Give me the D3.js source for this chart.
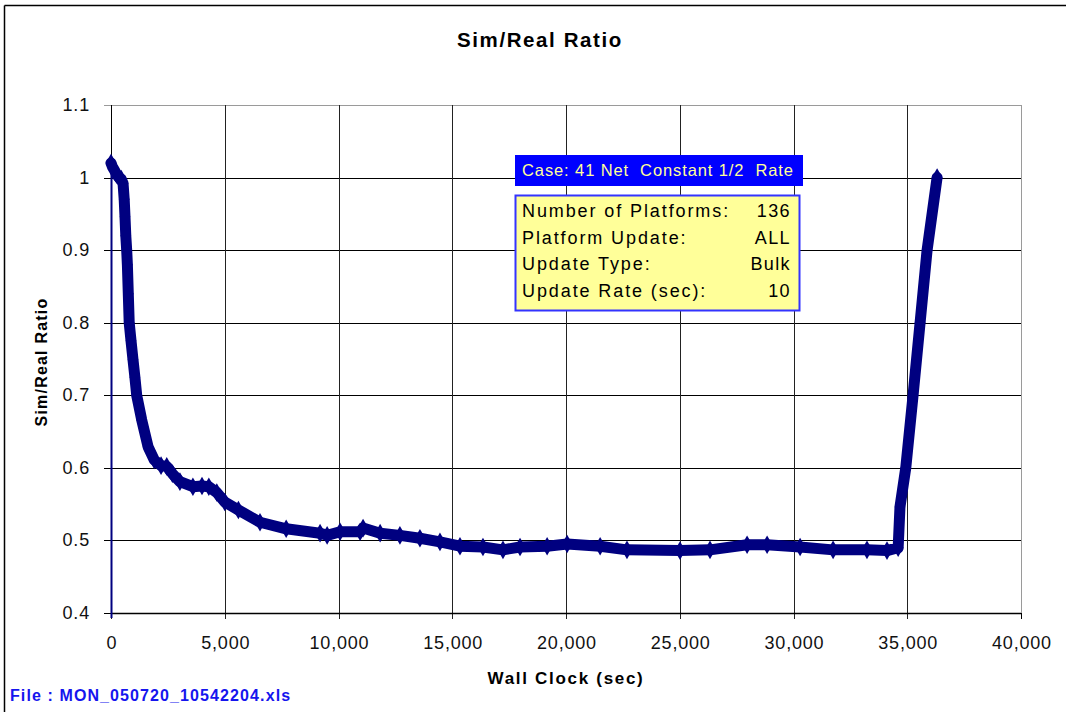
<!DOCTYPE html>
<html>
<head>
<meta charset="utf-8">
<script src="https://cdn.jsdelivr.net/npm/d3@7"></script>
<style>
  html, body { margin: 0; padding: 0; background: #ffffff; overflow: hidden; }
  svg { display: block; }
  text { font-family: "Liberation Sans", Arial, sans-serif; white-space: pre; }
</style>
</head>
<body>
<svg id="chart" width="1066" height="712"></svg>
<script>
// ---- data ----
const wallClockSec = [0, 60, 150, 250, 350, 450, 530, 580, 615, 650, 690, 720, 760, 800, 880, 967, 1050, 1130, 1350, 1630,
  1900, 2200, 2450, 2700, 3030, 3600, 4000, 4300, 4650, 5000, 5600, 6550, 7700, 9190, 9500, 10070, 10950, 11080, 11830, 12700,
  13580, 14460, 15340, 16350, 17230, 17980, 19170, 20050, 21500, 22680, 25010, 26330, 27960, 28840, 30290, 31740, 33230, 34110,
  34600, 34680, 34935, 35256, 35564, 35872, 36312];
const simRealRatio = [1.020, 1.015, 1.010, 1.004, 1.000, 0.998, 0.992, 0.970, 0.946, 0.920, 0.900, 0.880, 0.840, 0.800, 0.775, 0.749, 0.725, 0.700, 0.666, 0.629,
  0.611, 0.603, 0.602, 0.592, 0.581, 0.574, 0.575, 0.574, 0.566, 0.553, 0.542, 0.525, 0.516, 0.510, 0.507, 0.512, 0.512, 0.517, 0.510, 0.507,
  0.503, 0.498, 0.492, 0.491, 0.487, 0.491, 0.492, 0.495, 0.492, 0.487, 0.486, 0.487, 0.494, 0.494, 0.491, 0.487, 0.487, 0.486,
  0.490, 0.546, 0.600, 0.700, 0.800, 0.900, 1.000];
const xTicks = [0, 5000, 10000, 15000, 20000, 25000, 30000, 35000, 40000];
const yTicks = [0.4, 0.5, 0.6, 0.7, 0.8, 0.9, 1.0, 1.1];
const titleText = "Sim/Real Ratio";
const xTitle = "Wall Clock (sec)";
const yTitle = "Sim/Real Ratio";
const caseText = "Case: 41 Net  Constant 1/2  Rate";
const infoLabels = ["Number of Platforms:", "Platform Update:", "Update Type:", "Update Rate (sec):"];
const infoValues = ["136", "ALL", "Bulk", "10"];
const fileText = "File : MON_050720_10542204.xls";

// ---- layout ----
const svg = d3.select("#chart");
const L = 111, R = 1021, T = 105, B = 613;
const x = d3.scaleLinear().domain([0, 40000]).range([L, R]);
const y = d3.scaleLinear().domain([0.4, 1.1]).range([B, T]);
const navy = "#000080";

// outer chart frame (only top and left edges fall inside the picture)
svg.append("line").attr("x1", 4.5).attr("x2", 1066).attr("y1", 5.5).attr("y2", 5.5)
  .attr("stroke", "#000").attr("stroke-width", 1.5);
svg.append("line").attr("x1", 4.5).attr("x2", 4.5).attr("y1", 5.5).attr("y2", 712)
  .attr("stroke", "#000").attr("stroke-width", 1.5);

// title
svg.append("text").attr("x", 540).attr("y", 47).attr("text-anchor", "middle")
  .attr("font-size", 20.5).attr("font-weight", "bold").attr("letter-spacing", 1.6).text(titleText);

// gridlines
const g = svg.append("g");
g.selectAll("line.hg").data(yTicks).enter().append("line")
  .attr("x1", L - 7).attr("x2", R).attr("y1", d => Math.round(y(d)) + 0.5).attr("y2", d => Math.round(y(d)) + 0.5)
  .attr("stroke", d => d === 1.1 ? "#9a9a9a" : "#000").attr("stroke-width", 1);
g.selectAll("line.vg").data(xTicks).enter().append("line")
  .attr("y1", T).attr("y2", B + 6).attr("x1", d => Math.round(x(d)) + 0.5).attr("x2", d => Math.round(x(d)) + 0.5)
  .attr("stroke", d => d === 40000 ? "#9a9a9a" : "#222").attr("stroke-width", 1);
g.append("line").attr("x1", Math.round(x(40000)) + 0.5).attr("x2", Math.round(x(40000)) + 0.5)
  .attr("y1", B).attr("y2", B + 6).attr("stroke", "#000");
// axes
g.append("line").attr("x1", L + 0.5).attr("x2", L + 0.5).attr("y1", T).attr("y2", B).attr("stroke", "#000");
g.append("line").attr("x1", L).attr("x2", R).attr("y1", B + 0.5).attr("y2", B + 0.5).attr("stroke", "#000").attr("stroke-width", 1.5);

// tick labels
svg.selectAll("text.yt").data(yTicks).enter().append("text")
  .attr("x", 90).attr("y", d => y(d) + 6).attr("text-anchor", "end")
  .attr("font-size", 18).attr("letter-spacing", 0.8).attr("fill", "#111")
  .text(d => d3.format("")(+d.toFixed(1)));
svg.selectAll("text.xt").data(xTicks).enter().append("text")
  .attr("x", d => x(d) + 1).attr("y", 649).attr("text-anchor", "middle")
  .attr("font-size", 18).attr("letter-spacing", 0.8).attr("fill", "#111")
  .text(d => d3.format(",")(d));

// axis titles
svg.append("text").attr("x", 566).attr("y", 684).attr("text-anchor", "middle")
  .attr("font-size", 17).attr("font-weight", "bold").attr("letter-spacing", 1.7).text(xTitle);
svg.append("text").attr("transform", "translate(47,362) rotate(-90)").attr("text-anchor", "middle")
  .attr("font-size", 16).attr("font-weight", "bold").attr("letter-spacing", 1.2).text(yTitle);

// file label
svg.append("text").attr("x", 10).attr("y", 701).attr("font-size", 16).attr("font-weight", "bold")
  .attr("fill", "#1515ee").attr("letter-spacing", 1.1).text(fileText);

// series
const pts = wallClockSec.map((t, i) => [t, simRealRatio[i]]);
svg.append("line").attr("x1", x(pts[0][0]) + 0.5).attr("x2", x(pts[0][0]) + 0.5)
  .attr("y1", y(pts[0][1])).attr("y2", B + 5).attr("stroke", navy).attr("stroke-width", 2);
const line = d3.line().x(d => x(d[0])).y(d => y(d[1]));
svg.append("path").datum(pts).attr("d", line).attr("fill", "none")
  .attr("stroke", navy).attr("stroke-width", 11).attr("stroke-linejoin", "round").attr("stroke-linecap", "round");
svg.selectAll("path.mk").data(pts).enter().append("path")
  .attr("transform", d => `translate(${x(d[0])},${y(d[1])})`)
  .attr("d", d3.symbol().type(d3.symbolDiamond).size(100)).attr("fill", navy);

// case header box
svg.append("rect").attr("x", 515).attr("y", 155).attr("width", 288).attr("height", 31).attr("fill", "#0000ff");
svg.append("text").attr("x", 522).attr("y", 176).attr("font-size", 16.5).attr("letter-spacing", 0.9)
  .attr("fill", "#ffff99").text(caseText);

// info box
svg.append("rect").attr("x", 515.5).attr("y", 195.5).attr("width", 284).attr("height", 115)
  .attr("fill", "#ffff99").attr("stroke", "#3333ff").attr("stroke-width", 2);
svg.selectAll("text.il").data(infoLabels).enter().append("text")
  .attr("x", 522).attr("y", (d, i) => 217 + i * 26.5).attr("font-size", 18).attr("letter-spacing", 1.9)
  .attr("fill", "#000").text(d => d);
svg.selectAll("text.iv").data(infoValues).enter().append("text")
  .attr("x", 791).attr("y", (d, i) => 217 + i * 26.5).attr("font-size", 18).attr("letter-spacing", 1.4)
  .attr("text-anchor", "end").attr("fill", "#000").text(d => d);
</script>
</body>
</html>
